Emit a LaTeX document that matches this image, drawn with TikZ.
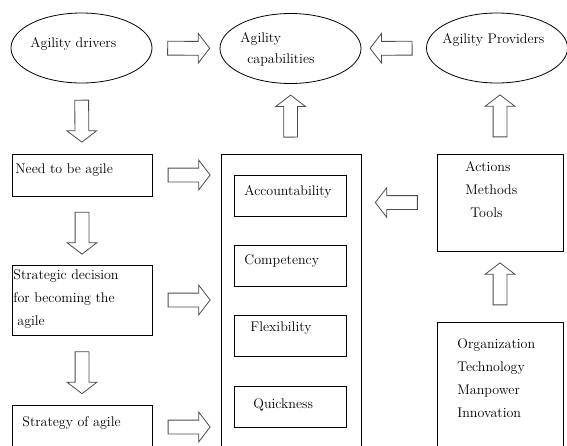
\documentclass[tikz,border=0pt]{standalone}
\usepackage{tikz}
\usetikzlibrary{shapes.geometric, shapes.arrows, positioning}

\begin{document}
\begin{tikzpicture}[x=1pt, y=1pt, line width=0.8pt,
    oval/.style={draw, ellipse, minimum width=141pt, minimum height=70pt, inner sep=0pt},
    box/.style={draw, rectangle, inner sep=0pt},
    txt/.style={anchor=base west, inner sep=0pt, align=left, font=\fontsize{14}{23}\selectfont},
    hollow/.style={draw=black!70, single arrow, minimum height=42pt, inner sep=6.5pt,
        single arrow head extend=8pt, single arrow tip angle=105, sloped, allow upside down}]
    \useasboundingbox (0,0) rectangle (567,-445);
    \clip (0,0) rectangle (567,-445);
    % top row
    \node[oval] (drivers) at (81.5,-48) {};
    \node[oval] (caps) at (290.5,-48.5) {};
    \node[oval] (prov) at (497,-48) {};
    \node[txt] (driverstxt) at (30,-47) {Agility drivers};
    \node[txt, font=\fontsize{14}{21}\selectfont] (capstxt) at (240,-63) {Agility\\\hspace{7pt}capabilities};
    \node[txt] (provtxt) at (442,-43) {Agility Providers};
    % left column
    \node[box, minimum width=140pt, minimum height=42pt] (need) at (82,-175) {};
    \node[box, minimum width=140pt, minimum height=70pt] (strat) at (82,-300) {};
    \node[box, minimum width=140pt, minimum height=44pt] (stgy) at (82,-427) {};
    \node[txt] (needtxt) at (15,-173) {Need to be agile};
    \node[txt] (strattxt) at (13,-325) {Strategic decision\\for becoming the\\\hspace{4pt}agile};
    \node[txt] (stgytxt) at (22,-426) {Strategy of agile};
    % capabilities
    \node[box, minimum width=140pt, minimum height=306pt] (big) at (291,-307) {};
    \foreach \name/\y in {acc/196, comp/265.5, flex/335.5, quick/406.5} {
        \node[box, minimum width=112pt, minimum height=41pt] (\name) at (290,-\y) {};
    }
    \node[txt] (acctxt) at (244,-195) {Accountability};
    \node[txt] (comptxt) at (244,-264) {Competency};
    \node[txt] (flextxt) at (250,-331) {Flexibility};
    \node[txt] (quicktxt) at (253,-408) {Quickness};
    % providers
    \node[box, minimum width=126pt, minimum height=97pt] (act) at (500,-202.5) {};
    \node[box, minimum width=126pt, minimum height=138pt] (org) at (500,-391) {};
    \node[txt] (acttxt) at (465,-217) {Actions\\Methods\\\hspace{5pt}Tools};
    \node[txt] (orgtxt) at (457,-417) {Organization\\Technology\\Manpower\\Innovation};
    % arrows
    \path (drivers) -- node[hollow] {} (caps);
    \path (prov) -- node[hollow] {} (caps);
    \path (drivers) -- node[hollow] {} (need);
    \path (big) -- node[hollow] {} (caps);
    \path (act.north) -- node[hollow] {} (act.north |- prov.south);
    \path (need) -- node[hollow] {} (strat);
    \path (strat) -- node[hollow] {} (stgy);
    \path (need.east) -- node[hollow] {} (need.east -| big.west);
    \path (strat.east) -- node[hollow] {} (strat.east -| big.west);
    \path (stgy.east) -- node[hollow] {} (stgy.east -| big.west);
    \path (act.west) -- node[hollow] {} (act.west -| big.east);
    \path (org.north) -- node[hollow] {} (act.south);
\end{tikzpicture}
\end{document}
